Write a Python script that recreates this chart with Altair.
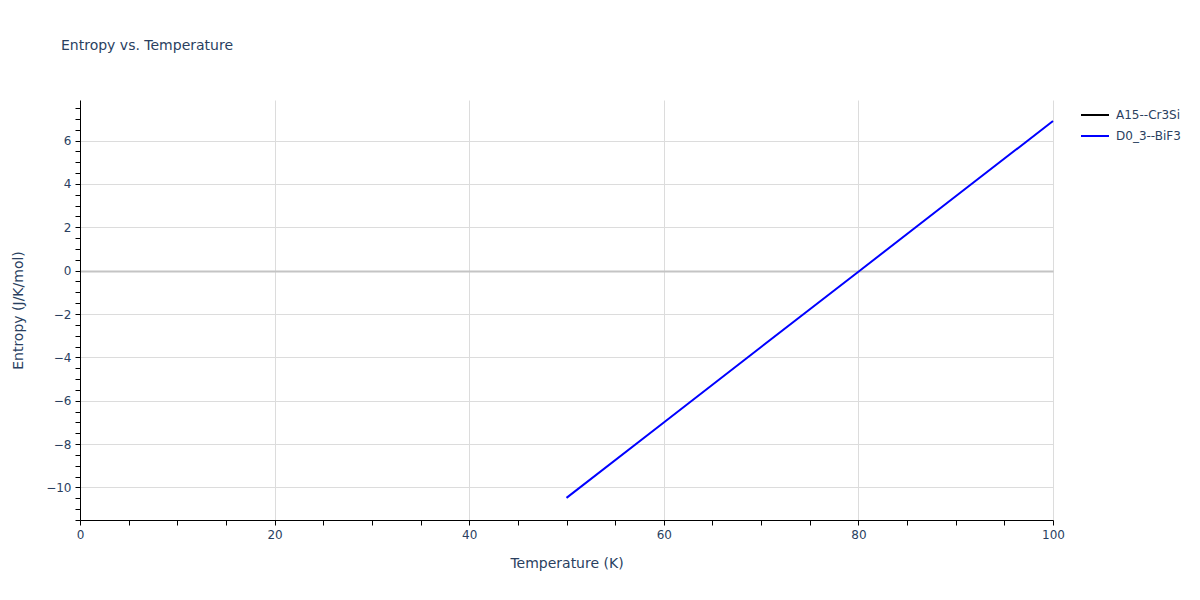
import altair as alt
import pandas as pd
import numpy as np

series_names = ["A15--Cr3Si", "D0_3--BiF3"]
series_colors = ["#000000", "#0000ff"]

temps = [50, 60, 70, 80, 90, 100]
entropy_bif3 = [-10.48, -7.0, -3.52, -0.05, 3.43, 6.9]

df = pd.DataFrame({"T": temps, "S": entropy_bif3, "series": ["D0_3--BiF3"] * len(temps)})

txt = "#2a3f5f"
font = "DejaVu Sans"

y_vals = [float(v) for v in np.arange(-11.5, 7.9, 0.5)]
x_vals = [float(v) for v in np.arange(0, 101, 5)]

chart = alt.Chart(df).mark_line(strokeWidth=2).encode(
    x=alt.X("T:Q", scale=alt.Scale(domain=[0, 100], nice=False, zero=False),
            axis=alt.Axis(title="Temperature (K)", values=x_vals, labelFlush=False,
                          labelExpr="datum.value % 20 == 0 ? format(datum.value, 'd') : ''",
                          gridColor={"condition": {"test": "datum.value % 20 == 0", "value": "#dcdcdc"},
                                     "value": "rgba(0,0,0,0)"},
                          domainColor="#000", tickColor="#000", tickSize=5,
                          labelColor=txt, labelFontSize=12, labelFont=font, labelPadding=4,
                          titleColor=txt, titleFontSize=14, titleFont=font, titleFontWeight="normal",
                          titlePadding=16)),
    y=alt.Y("S:Q", scale=alt.Scale(domain=[-11.5, 7.87], nice=False, zero=False),
            axis=alt.Axis(title="Entropy (J/K/mol)", values=y_vals, labelFlush=False,
                          labelExpr="datum.value % 2 == 0 ? format(datum.value, 'd') : ''",
                          gridColor={"condition": [{"test": "datum.value == 0", "value": "#c4c4c4"},
                                                   {"test": "datum.value % 2 == 0", "value": "#dcdcdc"}],
                                     "value": "rgba(0,0,0,0)"},
                          gridWidth={"condition": {"test": "datum.value == 0", "value": 2}, "value": 1},
                          domainColor="#000", tickColor="#000", tickSize=5,
                          labelColor=txt, labelFontSize=12, labelFont=font, labelPadding=4,
                          titleColor=txt, titleFontSize=14, titleFont=font, titleFontWeight="normal",
                          titlePadding=20)),
    color=alt.Color("series:N", scale=alt.Scale(domain=series_names, range=series_colors),
                    legend=alt.Legend(title=None, orient="none", legendX=1000, legendY=0,
                                      symbolType="stroke", symbolStrokeWidth=2, symbolSize=784,
                                      labelColor=txt, labelFontSize=12, labelFont=font,
                                      labelOffset=6, rowPadding=-9, padding=0)),
).properties(
    width=973, height=420,
    title=alt.TitleParams("Entropy vs. Temperature", anchor="start", frame="group",
                          dx=-19, offset=47, fontSize=14, font=font, fontWeight="normal",
                          color=txt),
    autosize=alt.AutoSizeParams(type="none"),
    padding={"left": 72, "top": 92, "right": 130, "bottom": 68},
).configure_view(stroke=None)

chart.save("out.html", embed_options={"renderer": "svg", "actions": False})
